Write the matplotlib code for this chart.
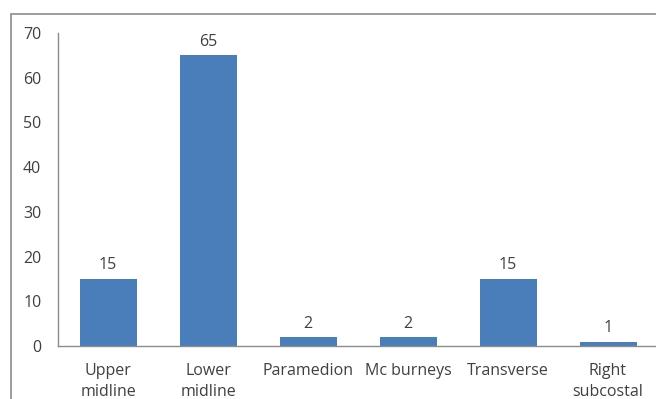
import matplotlib
matplotlib.use("Agg")
import matplotlib.pyplot as plt
from matplotlib.patches import Rectangle

categories = ["Upper\nmidline", "Lower\nmidline", "Paramedion", "Mc burneys", "Transverse", "Right\nsubcostal"]
values = [15, 65, 2, 2, 15, 1]
y_ticks = [0, 10, 20, 30, 40, 50, 60, 70]

plt.rcParams["font.family"] = ["Open Sans", "DejaVu Sans"]
W, H = 656, 399
fig = plt.figure(figsize=(W / 100, H / 100), dpi=100)

# outer chart frame (cropped at right and bottom)
fig.patches.append(Rectangle((11 / W, -0.1), 1.2, (H - 14) / H + 0.1,
                             transform=fig.transFigure, fill=False,
                             edgecolor="#8c8c8c", linewidth=1.2))

ax = fig.add_axes([58 / W, (H - 346) / H, 600 / W, (346 - 33) / H])
x = range(len(categories))
bars = ax.bar(x, values, width=0.57, color="#4A7EBB")
ax.set_xlim(-0.5, len(categories) - 0.5)
ax.set_ylim(0, 70)
ax.set_yticks(y_ticks)
ax.set_xticks(list(x))
ax.set_xticklabels(categories, linespacing=1.45)

for s in ("top", "right"):
    ax.spines[s].set_visible(False)
for s in ("left", "bottom"):
    ax.spines[s].set_color("#8c8c8c")
    ax.spines[s].set_linewidth(1.0)

ax.tick_params(axis="both", length=0, colors="#404040", labelsize=11.5)
ax.tick_params(axis="y", pad=12)
ax.tick_params(axis="x", pad=12)

for xi, v in zip(x, values):
    ax.annotate(str(v), (xi, v), xytext=(0, 4), textcoords="offset points",
                ha="center", va="bottom", fontsize=11.5, color="#404040")

fig.savefig("out.png", dpi=100)
